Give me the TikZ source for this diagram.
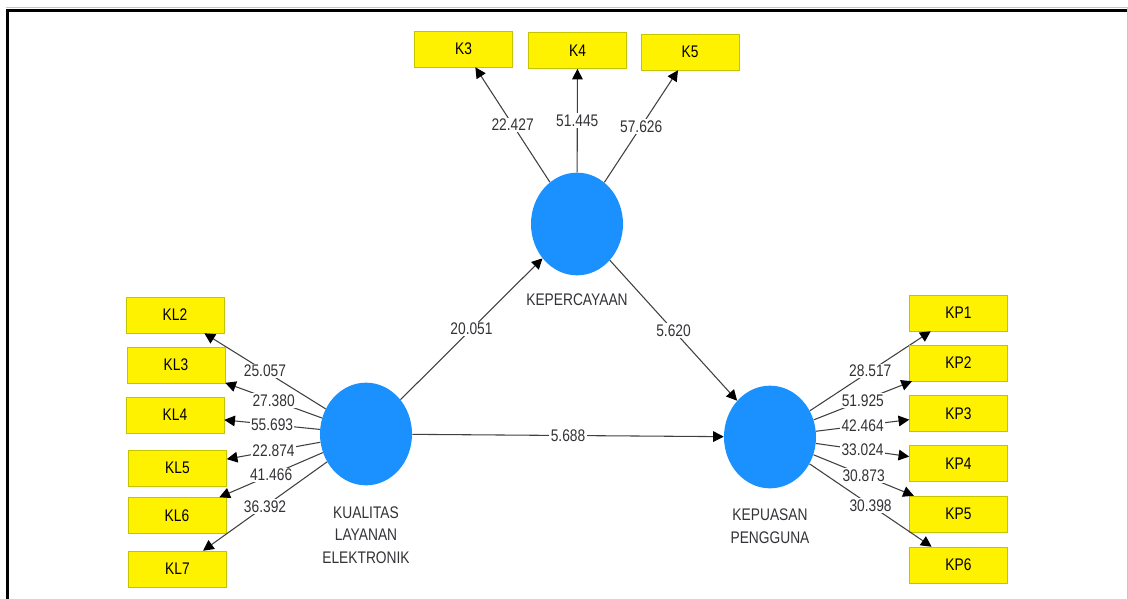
\documentclass[tikz,border=0pt]{standalone}
\usepackage{fontspec}
\setmainfont[FakeStretch=0.82]{Liberation Sans}
\usetikzlibrary{shapes,calc,arrows.meta}
\definecolor{plsblue}{RGB}{26,145,255}
\definecolor{plsolive}{RGB}{196,196,0}
\definecolor{plsline}{RGB}{64,64,64}
\definecolor{plstext}{RGB}{50,50,55}

\begin{document}
\begin{tikzpicture}[x=0.75pt,y=-0.75pt,
		font=\fontsize{12.6}{17}\selectfont,
		lv/.style={ellipse,fill=plsblue,minimum width=69pt,minimum height=77pt,inner sep=0pt},
		ind/.style={rectangle,fill=yellow,draw=plsolive,minimum width=73.5pt,minimum height=27pt,inner sep=0pt},
		link/.style={draw=plsline,line width=0.8pt,-{Triangle[length=8pt,width=8pt,black]}},
		coef/.style={midway,fill=white,inner sep=1pt,text=plstext},
		lvname/.style={text=plstext,align=center}]
		\useasboundingbox (0,0) rectangle (1128,599);
		% Frame
		\draw[gray!45,line width=0.75pt] (6,8)--(1127,8)--(1127,599);
		\draw[line width=2.25pt] (7.5,599)--(7.5,10.5)--(1127,10.5);
		% Latent variables
		\node[lv] (kep) at (577,224) {};
		\node[lv] (kl) at (366,434) {};
		\node[lv] (kp) at (770,437) {};
		\node[lvname] (kep-name) at (577,300) {KEPERCAYAAN};
		\node[lvname] (kl-name) at (366,535) {KUALITAS\\LAYANAN\\ELEKTRONIK};
		\node[lvname] (kp-name) at (770,526) {KEPUASAN\\PENGGUNA};
		% Indicators of KEPERCAYAAN
		\foreach \n/\x/\y/\v in {3/463.5/49/22.427,4/577.5/50.5/51.445,5/690/52/57.626}{
				\node[ind] (k\n) at (\x,\y) {K\n};
				\draw[link] (kep) -- (k\n) node[coef]{\v};
			}
		% Indicators of KUALITAS LAYANAN ELEKTRONIK
		\foreach \n/\x/\y/\v in {2/175/315/25.057,3/176/365/27.380,4/175/415/55.693,
				5/177.5/468/22.874,6/177/515.5/41.466,7/177.5/569/36.392}{
				\node[ind] (kl\n) at (\x,\y) {KL\n};
				\draw[link] (kl) -- (kl\n) node[coef]{\v};
			}
		% Indicators of KEPUASAN PENGGUNA
		\foreach \n/\y/\v in {1/313/28.517,2/363/51.925,3/413.5/42.464,
				4/463.5/33.024,5/514/30.873,6/565/30.398}{
				\node[ind] (kp\n) at (958.5,\y) {KP\n};
				\draw[link] (kp) -- (kp\n) node[coef]{\v};
			}
		% Structural paths
		\draw[link] (kl) -- (kep) node[coef]{20.051};
		\draw[link] (kep) -- (kp) node[coef]{5.620};
		\draw[link] (kl) -- (kp) node[coef]{5.688};
	\end{tikzpicture}
\end{document}
